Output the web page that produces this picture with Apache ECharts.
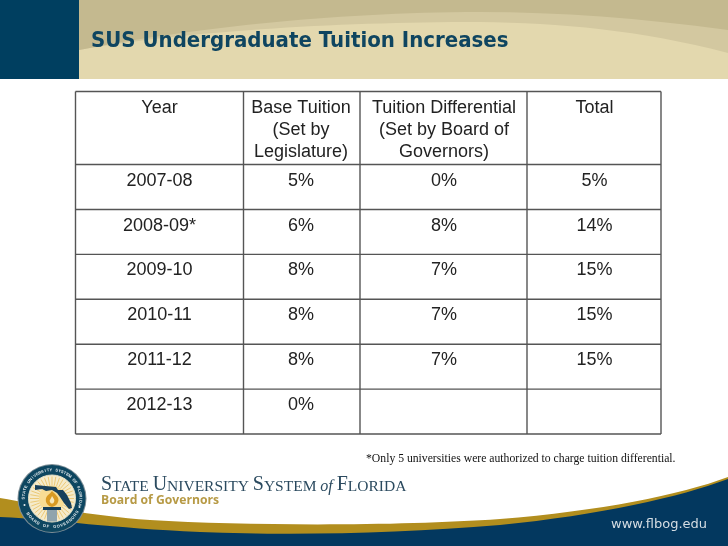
<!DOCTYPE html>
<html>
<head>
<meta charset="utf-8">
<title>SUS Undergraduate Tuition Increases</title>
<script src="https://cdn.jsdelivr.net/npm/echarts@6/dist/echarts.min.js"></script>
<style>
html, body { margin: 0; padding: 0; background: #fff; }
#main { width: 728px; height: 546px; }
</style>
</head>
<body>
<div id="main"></div>
<script>
// table data
var headers = ['Year', 'Base Tuition\n(Set by\nLegislature)', 'Tuition Differential\n(Set by Board of\nGovernors)', 'Total'];
var years = ['2007-08', '2008-09*', '2009-10', '2010-11', '2011-12', '2012-13'];
var baseTuition = [5, 6, 8, 8, 8, 0];
var differential = [0, 8, 7, 7, 7, null];
var total = [5, 14, 15, 15, 15, null];
var titleText = 'SUS Undergraduate Tuition Increases';
var footnote = '*Only 5 universities were authorized to charge tuition differential.';

// table layout, x axis runs 0-586 px across the table, y axis counts body rows
var colEdges = [0, 168, 284.5, 451.5, 585.5];
var colCenters = [84, 225.5, 368.5, 519];
var headerRows = -1.626;
var bodyRows = 6;
var textOffset = 0.36;

function pct(v) { return v === null ? '' : v + '%'; }

var cellData = [];
headers.forEach(function (h, c) { cellData.push([colCenters[c], headerRows, h, 'head']); });
years.forEach(function (y, i) {
    cellData.push([colCenters[0], i + textOffset, y, 'body']);
    cellData.push([colCenters[1], i + textOffset, pct(baseTuition[i]), 'body']);
    cellData.push([colCenters[2], i + textOffset, pct(differential[i]), 'body']);
    cellData.push([colCenters[3], i + textOffset, pct(total[i]), 'body']);
});

var lineData = [];
colEdges.forEach(function (x) { lineData.push([x, headerRows, x, bodyRows]); });
lineData.push([0, headerRows, 585.5, headerRows]);
for (var r = 0; r <= bodyRows; r++) lineData.push([0, r, 585.5, r]);

// graphic component has no path type, so register each outline as a shape
var shapeCount = 0;
function outline(d, fill) {
    var name = 'artShape' + (shapeCount++);
    echarts.graphic.registerShape(name, echarts.graphic.extendPath(d));
    return { type: name, style: { fill: fill } };
}

// slide artwork
var navy = '#03385f';
var art = [
    { type: 'rect', shape: { x: 0, y: 0, width: 728, height: 79 }, style: { fill: '#e3d8ae' } },
    outline('M79 0L728 0L728 53C640 30 560 23 480 22C330 22 180 32 79 50Z', '#d3c8a0'),
    outline('M79 0L728 0L728 30C640 18 560 12 480 12C330 12 180 30 79 50Z', '#c4b98f'),
    { type: 'rect', shape: { x: 0, y: 0, width: 79, height: 79 }, style: { fill: '#003f60' } },
    { type: 'text', x: 91, y: 41.5, scaleX: 0.9, style: { text: titleText, font: 'bold 22px "DejaVu Sans"', fill: '#0f4560', verticalAlign: 'middle' } },

    outline('M0 498C40 505 90 516 150 520C250 526 400 526 500 519C600 511 680 495 728 477L728 546L0 546Z', '#b28e1e'),
    outline('M0 517C60 520 110 528 200 532C300 536 400 533 500 525C600 515 680 497 728 479L728 546L0 546Z', navy),
    { type: 'text', x: 366, y: 459, style: { text: footnote, font: '11.7px "Liberation Serif"', fill: '#111', verticalAlign: 'middle' } },
    { type: 'text', x: 611, y: 524.5, style: { text: 'www.flbog.edu', font: '13px "DejaVu Sans"', fill: '#d5dde3', verticalAlign: 'middle' } },

    { type: 'text', x: 101, y: 485, style: {
        text: '{a|S}{b|TATE }{a|U}{b|NIVERSITY }{a|S}{b|YSTEM }{c|of }{a|F}{b|LORIDA}',
        verticalAlign: 'middle',
        rich: {
            a: { font: '20px "Liberation Serif"', fill: '#2b4a5f', verticalAlign: 'bottom' },
            b: { font: '15.5px "Liberation Serif"', fill: '#2b4a5f', verticalAlign: 'bottom' },
            c: { font: 'italic 16px "Liberation Serif"', fill: '#2b4a5f', verticalAlign: 'bottom' }
        }
    } },
    { type: 'text', x: 101, y: 501, style: { text: 'Board of Governors', font: 'bold 12.2px "Open Sans"', fill: '#b79a45', verticalAlign: 'middle' } },

    // seal
    { type: 'circle', shape: { cx: 52, cy: 498.5, r: 34.5 }, style: { fill: '#7f8f97' } },
    { type: 'circle', shape: { cx: 52, cy: 498.5, r: 33.5 }, style: { fill: '#0d4660' } },
    { type: 'circle', shape: { cx: 52, cy: 498.5, r: 23.5 }, style: { fill: '#f5ebcb', stroke: '#e8e2c8', lineWidth: 1 } },
    { type: 'circle', shape: { cx: 52, cy: 498.5, r: 13 }, style: { fill: '#f8dc94' } }
];

// sun rays behind the state outline
for (var d = 0; d < 360; d += 10) {
    var ang = d * Math.PI / 180;
    art.push({
        type: 'line',
        shape: {
            x1: 52 + 13 * Math.sin(ang), y1: 498.5 - 13 * Math.cos(ang),
            x2: 52 + 22 * Math.sin(ang), y2: 498.5 - 22 * Math.cos(ang)
        },
        style: { stroke: '#ecc976', lineWidth: 1 }
    });
}

art.push(
    outline('M35 485L56 487L58 490L63 490L67 495L71 503L72 508L69 509L64 503L60 497L57 493L52 490L46 491L42 489L35 490Z', '#17405c'),
    outline('M52 491C56 495 60 498 58 502C57 505 55 506 52 507C48 506 45 503 46 498C47 495 50 494 52 491Z', '#d99a23'),
    outline('M52 496C54 499 55 500 54 502C53 504 51 504 50 502C49 500 51 499 52 496Z', '#f8e8b8'),
    { type: 'rect', shape: { x: 43, y: 507, width: 18, height: 3 }, style: { fill: '#17405c' } },
    { type: 'rect', shape: { x: 47, y: 510, width: 10, height: 11.5 }, style: { fill: '#8fa4ad' } },
    { type: 'circle', shape: { cx: 24.5, cy: 505, r: 1 }, style: { fill: '#e8eef0' } },
    { type: 'circle', shape: { cx: 79.5, cy: 507, r: 1 }, style: { fill: '#e8eef0' } }
);

// seal lettering, one rotated glyph at a time
function ringText(str, midAngle, step, radius, bottom) {
    var start = midAngle - step * (str.length - 1) / 2;
    str.split('').forEach(function (ch, i) {
        var a = (start + step * i) * Math.PI / 180;
        art.push({
            type: 'text',
            x: 52 + radius * Math.sin(a),
            y: 498.5 - radius * Math.cos(a),
            rotation: bottom ? -(a - Math.PI) : -a,
            style: { text: ch, font: 'bold 4px "Liberation Sans"', fill: '#e8eef0', align: 'center', verticalAlign: 'middle' }
        });
    });
}
ringText('STATE UNIVERSITY SYSTEM OF FLORIDA', 6.5, 5.8, 28.5, false);
ringText('BOARD OF GOVERNORS', 178, -7, 28.5, true);

var myChart = echarts.init(document.getElementById('main'));

var option = {
    animation: false,
    graphic: art,
    grid: { left: 75.5, top: 91.5, width: 585.5, height: 342.5 },
    xAxis: { type: 'value', min: 0, max: 585.5, show: false },
    yAxis: { type: 'value', min: headerRows, max: bodyRows, inverse: true, show: false },
    series: [{
        type: 'custom',
        coordinateSystem: 'cartesian2d',
        silent: true,
        data: lineData,
        renderItem: function (params, api) {
            var a = api.coord([api.value(0), api.value(1)]);
            var b = api.coord([api.value(2), api.value(3)]);
            return {
                type: 'line',
                shape: { x1: a[0], y1: a[1], x2: b[0], y2: b[1] },
                style: { stroke: '#555', lineWidth: 1.4 }
            };
        }
    }, {
        type: 'custom',
        coordinateSystem: 'cartesian2d',
        silent: true,
        data: cellData,
        encode: { x: 0, y: 1 },
        renderItem: function (params, api) {
            var p = api.coord([api.value(0), api.value(1)]);
            var isHead = cellData[params.dataIndex][3] === 'head';
            return {
                type: 'text',
                x: p[0],
                y: p[1] + (isHead ? 6 : 0),
                style: {
                    text: cellData[params.dataIndex][2],
                    font: '18px "Liberation Sans"',
                    lineHeight: 22,
                    fill: '#222',
                    align: 'center',
                    verticalAlign: isHead ? 'top' : 'middle'
                }
            };
        }
    }]
};
myChart.setOption(option);
</script>
</body>
</html>
